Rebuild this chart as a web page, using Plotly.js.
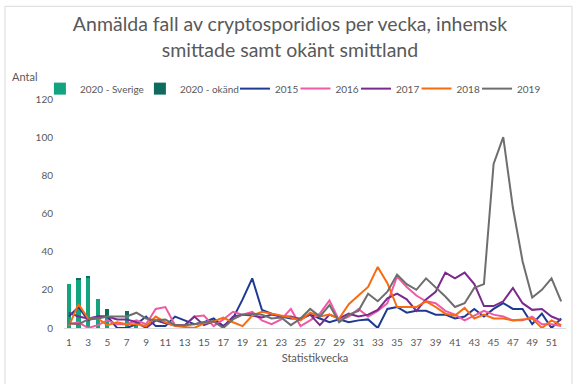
<!DOCTYPE html>
<html>
<head>
<meta charset="utf-8">
<script src="https://cdn.plot.ly/plotly-3.0.1.min.js"></script>
<style>
html,body{margin:0;padding:0;background:#ffffff;}
#chart{width:580px;height:384px;}
</style>
</head>
<body>
<div id="chart"></div>
<script>
// ---- data ----
const weeks = [1,2,3,4,5,6,7,8,9,10,11,12,13,14,15,16,17,18,19,20,21,22,23,24,25,26,
               27,28,29,30,31,32,33,34,35,36,37,38,39,40,41,42,43,44,45,46,47,48,49,50,51,52];
const weeks2020 = [1,2,3,4,5,6,7,8];
const sverige2020 = [23,25,26,15,7,0,7,2];
const okand2020   = [0,1,1,0,3,0,2,0];

const y2015 = [6,11,4,6,6,0,0,2,6,1,1,6,4,2,3,5,1,5,15,26,9.5,7.5,6,5,5,7,
               5,3,4.5,3,4,4.5,0,10,11,8,9,9,7,7,5,6,10,6,10,13,10,10,2,7.5,0,5];
const y2016 = [2,3,0,1.5,4,2,2,4,2,10,11,1.5,1,6,6.5,1,4.5,8.5,7,8.5,4,2,4.5,10,1,4,
               7.5,14.5,4,6,10,6,9,13,27,21.5,17,14,13,9,7,4,6.5,9,7,6,4,4,6,2,2,1];
const y2017 = [8,6,5,6,6,4.5,4.5,3,0,4,2.5,1.5,1.5,6,1.5,3.5,0.5,6,7,6.5,5.5,7,6,6,4.5,7,
               1.5,7,5,7.5,6,7,9.5,15.5,18,15,9,15,19,29,26,29,23,11.5,11.5,14,21,13,9.5,10,6,4];
const y2018 = [1,12.5,5,5,1.5,3,2,2,1,6,3,1,0.5,0,2.5,3.5,5.5,3,1,6.5,8.5,7.5,6.5,5.5,4,8,
               6,7,5,12.5,17,21.5,32,23.5,11,11,11,14,11,7.5,6.5,10.5,5,7,5,5,4,4.5,5,0,4,1.5];
const y2019 = [2.5,2,4.5,5,6,6,6,8,5,4,4.5,1.5,1.5,2,3,3.5,0,4.5,7,7.5,7,5,5.5,1.5,5,10,
               6,12,3,7,9,18,14,19,28,23,20,26,21.5,16.5,11,13,21,23,86,100,63,35,16,20,26,14];

const tickWeeks  = [1,3,5,7,9,11,13,15,17,19,21,23,25,27,29,31,33,35,37,39,41,43,45,47,49,51];
const tickLabels = ["1","3","5","7","9","11","13","15","17","19","21","23","25","27","29","31","33","35","37","39","41","43","45","47","49","51"];
const yTicks = [0,20,40,60,80,100,120];

const seriesNames  = ["2015","2016","2017","2018","2019"];
const seriesData   = [y2015, y2016, y2017, y2018, y2019];
const seriesColors = ["#1f3a93","#ef5aa6","#7a2a8c","#f76b12","#6e6e6e"];

// ---- traces ----
const FONT = "Lato, 'Open Sans', sans-serif";
const TXT = "#595959";
const legendFont = {family:FONT, size:10, color:TXT};

const traces = [
  {type:"bar", name:"2020 - Sverige", x:weeks2020, y:sverige2020,
   marker:{color:"#12a37f"}, width:0.42, legend:"legend"},
  {type:"bar", name:"2020 - okänd", x:weeks2020, y:okand2020,
   marker:{color:"#0f6b5d"}, width:0.42, legend:"legend"}
];

const layout = {
  width:580, height:384,
  paper_bgcolor:"#ffffff", plot_bgcolor:"#ffffff",
  margin:{l:64, r:14, t:99, b:56},
  barmode:"stack",
  font:{family:FONT, color:TXT, size:10},
  title:{text:"Anmälda fall av cryptosporidios per vecka, inhemsk<br>smittade samt okänt smittland",
         font:{family:FONT, size:19.5, color:TXT},
         x:0.5, xanchor:"center", xref:"container", y:0.918, yanchor:"top"},
  showlegend:true,
  legend:{orientation:"h", x:-0.048, xanchor:"left", y:0.982, yanchor:"bottom",
          font:legendFont, bgcolor:"rgba(0,0,0,0)", traceorder:"normal", itemwidth:30,
          entrywidth:55, entrywidthmode:"pixels"},
  xaxis:{range:[0.5,52.5], tickmode:"array", tickvals:tickWeeks, ticktext:tickLabels,
         showgrid:false, zeroline:false, showline:true, linecolor:"#d9d9d9", linewidth:1,
         ticks:"outside", ticklen:5, tickcolor:"rgba(0,0,0,0)",
         tickfont:{family:FONT, size:10, color:TXT},
         title:{text:"Statistikvecka", font:{family:FONT, size:11, color:TXT}, standoff:7}},
  yaxis:{range:[0,120], tickmode:"array", tickvals:yTicks,
         showgrid:false, zeroline:false, showline:false,
         ticks:"outside", ticklen:8, tickcolor:"rgba(0,0,0,0)",
         tickfont:{family:FONT, size:10, color:TXT}},
  annotations:[
    {text:"Antal", xref:"paper", yref:"paper", x:-0.107, y:1.1, xanchor:"left", yanchor:"middle",
     showarrow:false, font:{family:FONT, size:11, color:TXT}}
  ],
  shapes:[
    {type:"rect", xref:"paper", yref:"paper", x0:-0.1175, x1:1.012, y0:-0.3, y1:1.405,
     line:{color:"#d9d9d9", width:1}, fillcolor:"rgba(0,0,0,0)", layer:"below"}
  ]
};

// one small legend per line series so each entry sits where the reference shows it
const lineLegendX = [0.3406, 0.4611, 0.5817, 0.7022, 0.8227];
seriesNames.forEach((n,i)=>{
  const lg = "legend" + (i+2);
  traces.push({type:"scatter", mode:"lines", name:n, x:weeks, y:seriesData[i],
    line:{color:seriesColors[i], width:2}, legend:lg});
  layout[lg] = {orientation:"h", x:lineLegendX[i], xanchor:"left", y:0.982, yanchor:"bottom",
    font:legendFont, bgcolor:"rgba(0,0,0,0)", itemwidth:30};
});

Plotly.newPlot("chart", traces, layout, {displayModeBar:false, staticPlot:true});
</script>
</body>
</html>
